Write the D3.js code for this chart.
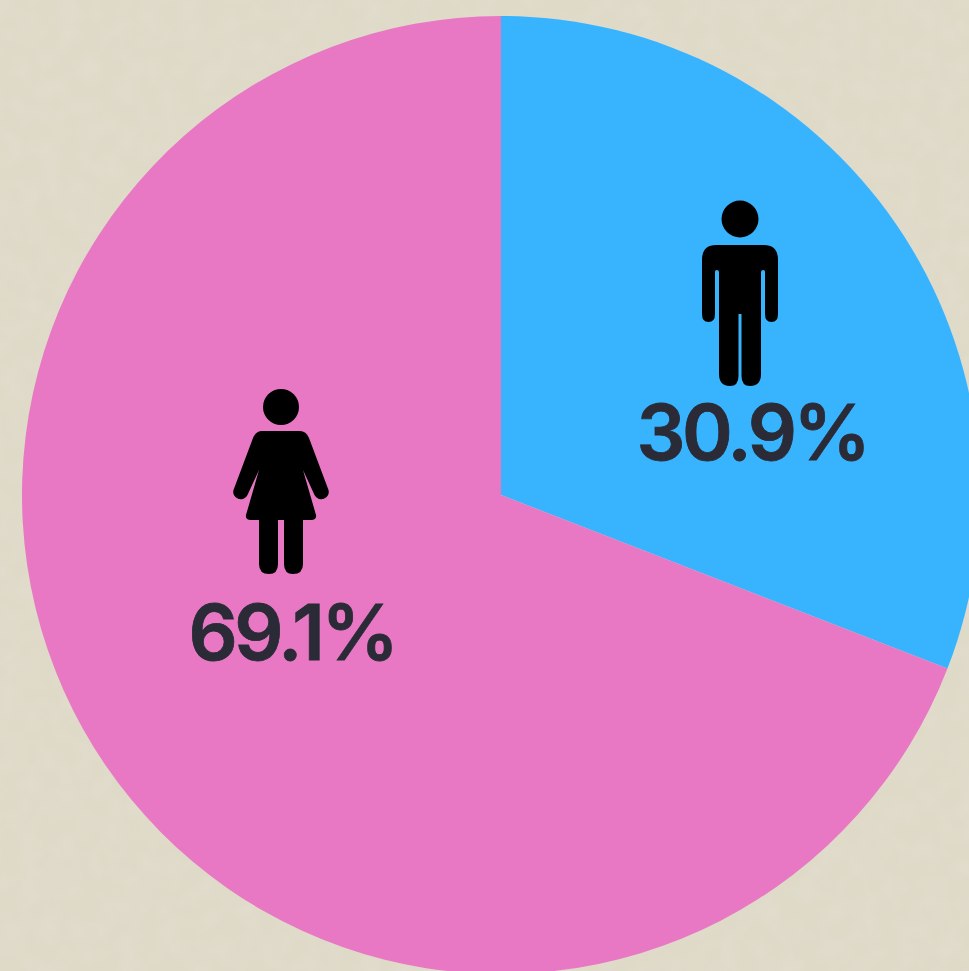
<!DOCTYPE html>
<html>
<head>
<meta charset="utf-8">
<script src="https://cdn.jsdelivr.net/npm/d3@7"></script>
<style>
html,body{margin:0;padding:0;background:#dfd9c8;overflow:hidden}
svg{display:block}
text{font-family:Inter,"Noto Sans",sans-serif;font-weight:600}
</style>
</head>
<body>
<script>
const categories = ["Male", "Female"];
const shares = [30.9, 69.1];
const sliceColors = ["#38b4ff", "#e878c4"];
const labelColor = "#2a2b36";
const width = 969, height = 971;

const svg = d3.select("body").append("svg").attr("width", width).attr("height", height);

const defs = svg.append("defs");
const filter = defs.append("filter").attr("id", "paper").attr("x", 0).attr("y", 0).attr("width", "100%").attr("height", "100%");
filter.append("feTurbulence").attr("type", "fractalNoise").attr("baseFrequency", 0.05).attr("numOctaves", 2).attr("seed", 4);
filter.append("feColorMatrix").attr("type", "matrix")
  .attr("values", "0 0 0 0 1  0 0 0 0 1  0 0 0 0 0.95  0.5 0 0 0 -0.18");
svg.append("rect").attr("width", width).attr("height", height).attr("fill", "#dfd9c8");
svg.append("rect").attr("width", width).attr("height", height).attr("filter", "url(#paper)").attr("opacity", 0.3);

const pie = d3.pie().sort(null).value(d => d)(shares);
const arc = d3.arc().innerRadius(0).outerRadius(479);
const color = d3.scaleOrdinal(categories, sliceColors);

const chart = svg.append("g").attr("transform", "translate(501,495)");
chart.selectAll("path").data(pie).join("path")
  .attr("d", arc)
  .attr("fill", (d, i) => color(categories[i]));

// Pictograms, drawn relative to their own head centre.
const manBody = "M-24,26 H24 Q38,26 38,41 V95 Q38,103 31.5,103 Q25,103 25,95 V53 Q25,51 23.5,51 Q21,51 21,53 V155 Q21,167 10,167 Q1.5,167 1.5,157 V95 H-1.5 V157 Q-1.5,167 -10,167 Q-21,167 -21,155 V53 Q-21,51 -23.5,51 Q-25,51 -25,53 V95 Q-25,103 -31.5,103 Q-38,103 -38,95 V41 Q-38,26 -24,26 Z";
const womanBody = "M-19,24 H19 Q25,24 28,31 L47.5,82.9 A7.5,7.5 0 0 1 33.5,88.1 L22,63 L35,108 Q36,113 30,113 H22 V157 Q22,167 12,167 Q3,167 3,157 V113 H-3 V157 Q-3,167 -12,167 Q-22,167 -22,157 V113 H-30 Q-36,113 -35,108 L-22,63 L-33.5,88.1 A7.5,7.5 0 0 1 -47.5,82.9 L-28,31 Q-25,24 -19,24 Z";

const figures = [
  {body: manBody, head: 18.5, x: 740, y: 219, tx: 752, ty: 460},
  {body: womanBody, head: 18, x: 281, y: 407, tx: 292, ty: 660}
];

const g = svg.selectAll("g.figure").data(figures).join("g").attr("class", "figure");
g.append("circle").attr("cx", d => d.x).attr("cy", d => d.y).attr("r", d => d.head).attr("fill", "#000");
g.append("path").attr("transform", d => `translate(${d.x},${d.y})`).attr("d", d => d.body).attr("fill", "#000");
g.append("text")
  .attr("x", d => d.tx).attr("y", d => d.ty)
  .attr("text-anchor", "middle")
  .attr("font-size", 77)
  .attr("letter-spacing", -3.4)
  .attr("stroke", labelColor)
  .attr("stroke-width", 0.8)
  .attr("fill", labelColor)
  .text((d, i) => d3.format(".1f")(shares[i]) + "%");
</script>
</body>
</html>
